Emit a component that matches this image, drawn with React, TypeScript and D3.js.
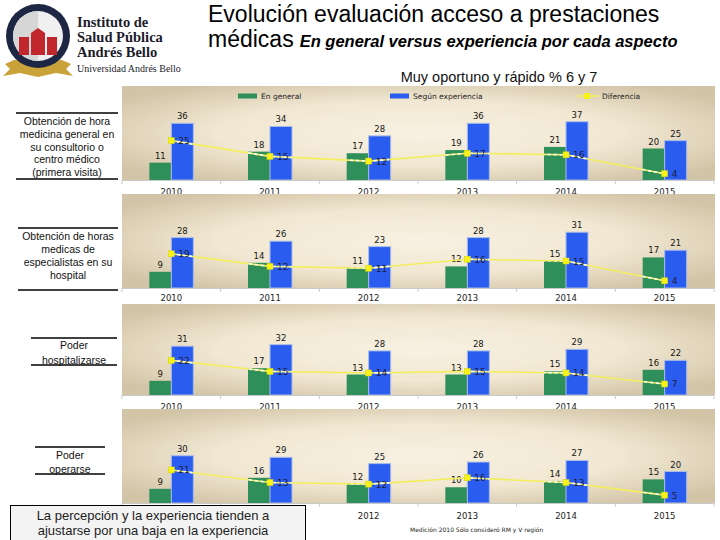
import React from 'react';
import * as d3 from 'd3';

// Survey years shown on every panel
const years = ['2010', '2011', '2012', '2013', '2014', '2015'];

// Aspect titles, one per panel (split in lines)
const aspectLines = [
  ['Obtención de hora', 'medicina general en', 'su consultorio o', 'centro médico', '(primera visita)'],
  ['Obtención de horas', 'medicas de', 'especialistas en su', 'hospital'],
  ['Poder', 'hospitalizarse'],
  ['Poder', 'operarse'],
];

// % "Muy oportuno y rápido" (notas 6 y 7)
const generalValues = [
  [11, 18, 17, 19, 21, 20],
  [9, 14, 11, 12, 15, 17],
  [9, 17, 13, 13, 15, 16],
  [9, 16, 12, 10, 14, 15],
];
const experienceValues = [
  [36, 34, 28, 36, 37, 25],
  [28, 26, 23, 28, 31, 21],
  [31, 32, 28, 28, 29, 22],
  [30, 29, 25, 26, 27, 20],
];
const differenceValues = [
  [25, 15, 12, 17, 16, 4],
  [19, 12, 11, 16, 15, 4],
  [22, 15, 14, 15, 14, 7],
  [21, 13, 12, 16, 13, 5],
];
const axisMax = [40, 35, 40, 40];
const seriesNames = ['En general', 'Según experiencia', 'Diferencia'];

const GREEN = '#2f8f5b';
const BLUE = '#2b5cf0';
const YELLOW = '#f3ef5c';
const LABEL_FONT = '"DejaVu Sans", sans-serif';
const SANS = '"Liberation Sans", Arial, sans-serif';
const SERIF = '"Liberation Serif", "DejaVu Serif", serif';

// Panel frames
const panelTop = [86, 194, 304, 409];
const panelBase = [180, 288, 395, 503];
const yearY = [192, 298, 407, 516];
const PLOT_H = 63;
const X0 = 122;
const X1 = 714;

// Conclusion note box (covers the lower-left corner of the last panel)
const NOTE_BOX = { x: 10.5, y: 505.5, w: 295, h: 40 };

function Panel({ i }: { i: number }) {
  const top = panelTop[i];
  const base = panelBase[i];
  const x = d3.scaleBand<string>().domain(years).range([X0, X1]);
  const inner = d3.scaleBand<string>().domain(['g', 'e']).range([-22, 22]);
  const y = d3.scaleLinear().domain([0, axisMax[i]]).range([base, base - PLOT_H]);
  const cx = (j: number) => (x(years[j]) as number) + x.bandwidth() / 2;
  const line = d3
    .line<number>()
    .x((_, j) => cx(j))
    .y((d) => y(d));
  const diffPath = line(differenceValues[i]) || '';
  const clipId = `barclip-${i}`;

  const bars = years.flatMap((yr, j) => [
    { key: `g${j}`, x: cx(j) + (inner('g') as number), v: generalValues[i][j], fill: GREEN, stroke: 'none' },
    { key: `e${j}`, x: cx(j) + (inner('e') as number), v: experienceValues[i][j], fill: BLUE, stroke: '#a9bde6' },
  ]);
  const bw = inner.bandwidth();

  // year labels that would sit under the note box are left out
  const underBox = (j: number) =>
    yearY[i] > NOTE_BOX.y && cx(j) < NOTE_BOX.x + NOTE_BOX.w;

  return (
    <g>
      <rect x={X0} y={top} width={X1 - X0 + 1} height={base - top} fill="url(#panelBg)" />
      <defs>
        <clipPath id={clipId}>
          {bars.map((b) => (
            <rect key={b.key} x={b.x} y={y(b.v)} width={bw} height={base - y(b.v)} />
          ))}
        </clipPath>
      </defs>
      {bars.map((b) => (
        <rect
          key={b.key}
          x={b.x}
          y={y(b.v)}
          width={bw}
          height={base - y(b.v)}
          fill={b.fill}
          stroke={b.stroke}
          strokeWidth={1}
        />
      ))}
      {bars.map((b) => (
        <text
          key={'t' + b.key}
          x={b.x + bw / 2}
          y={y(b.v) - 4}
          textAnchor="middle"
          fontFamily={LABEL_FONT}
          fontSize={8.5}
          fill="#151515"
        >
          {b.v}
        </text>
      ))}
      {/* axis line with category separators */}
      <line x1={X0} x2={X1} y1={base + 0.5} y2={base + 0.5} stroke="#c9c9c9" />
      {d3.range(years.length + 1).map((k) => {
        const tx = X0 + k * x.step();
        return <line key={k} x1={tx} x2={tx} y1={base} y2={base + 4} stroke="#c9c9c9" />;
      })}
      {years.map((yr, j) =>
        underBox(j) ? null : (
          <text
            key={yr}
            x={cx(j)}
            y={yearY[i] + 3}
            textAnchor="middle"
            fontFamily={LABEL_FONT}
            fontSize={8.5}
            fill="#222"
          >
            {yr}
          </text>
        )
      )}
      {/* difference line */}
      <path d={diffPath} fill="none" stroke={YELLOW} strokeWidth={1.6} />
      <path
        d={diffPath}
        fill="none"
        stroke="#ffffff"
        strokeWidth={1.6}
        strokeDasharray="3 3"
        clipPath={`url(#${clipId})`}
      />
      {differenceValues[i].map((d, j) => (
        <g key={'d' + j}>
          <rect x={cx(j) - 3} y={y(d) - 3} width={6} height={6} fill="#f7f31a" stroke="#d8d40a" strokeWidth={0.5} />
          <text
            x={cx(j) + 7}
            y={y(d) + 3.5}
            fontFamily={LABEL_FONT}
            fontSize={9}
            fill="#1c1c3c"
          >
            {d}
          </text>
        </g>
      ))}
    </g>
  );
}

function AspectLabel({ i }: { i: number }) {
  const boxes = [
    { x1: 16, x2: 118, top: 113, bottom: 179, first: 121, step: 12.8 },
    { x1: 18, x2: 118, top: 228, bottom: 290, first: 236, step: 13 },
    { x1: 31, x2: 117, top: 338, bottom: 365, first: 345, step: 15 },
    { x1: 35, x2: 105, top: 447, bottom: 474, first: 455, step: 13.5 },
  ];
  const b = boxes[i];
  const mid = (b.x1 + b.x2) / 2;
  return (
    <g>
      <line x1={b.x1} x2={b.x2} y1={b.top} y2={b.top} stroke="#000" strokeWidth={1.6} />
      <line x1={b.x1} x2={b.x2} y1={b.bottom} y2={b.bottom} stroke="#000" strokeWidth={1.6} />
      {aspectLines[i].map((t, k) => (
        <text
          key={k}
          x={mid}
          y={b.first + k * b.step + 4}
          textAnchor="middle"
          fontFamily={SANS}
          fontSize={10.5}
          fill="#111"
        >
          {t}
        </text>
      ))}
    </g>
  );
}

function Logo() {
  return (
    <g>
      <path
        d="M5,64 L14,60 L62,60 L71,64 L66,69 L73,76 L56,73 L38,77 L20,73 L3,76 L10,69 Z"
        fill="#c9a23a"
      />
      <circle cx={38} cy={36} r={32} fill="#1d2743" />
      <circle cx={38} cy={36} r={25} fill="#f0f0f0" />
      <path d="M38,11 A25,25 0 0 0 38,61 Z" fill="#d6d6d6" />
      <rect x={19} y={37} width={10} height={18} fill="#c1272d" />
      <path d="M31,55 V33 L38,28 L45,33 V55 Z" fill="#c1272d" />
      <rect x={47} y={37} width={10} height={18} fill="#c1272d" />
      <g fontFamily={SERIF} fontWeight="bold" fill="#1b1b2b" fontSize={14.5}>
        <text x={77} y={27}>Instituto de</text>
        <text x={77} y={42}>Salud Pública</text>
        <text x={77} y={56.5}>Andrés Bello</text>
      </g>
      <text x={77} y={72} fontFamily={SERIF} fontSize={10} fill="#1b1b2b">
        Universidad Andrés Bello
      </text>
    </g>
  );
}

export default function App() {
  return (
    <div style={{ position: 'fixed', left: 0, top: 0, width: 720, height: 540, background: '#fff' }}>
      <svg width={720} height={540} viewBox="0 0 720 540">
        <defs>
          <radialGradient id="panelBg" cx="50%" cy="50%" r="62%">
            <stop offset="0%" stopColor="#f8f1e2" />
            <stop offset="55%" stopColor="#f1e7d2" />
            <stop offset="100%" stopColor="#d2c4a6" />
          </radialGradient>
        </defs>
        <rect width={720} height={540} fill="#fff" />
        <Logo />
        <text x={208} y={22} fontFamily={SANS} fontSize={23} fill="#000">
          Evolución evaluación acceso a prestaciones
        </text>
        <text x={208} y={47} fontFamily={SANS} fontSize={23} fill="#000">
          médicas
          <tspan fontSize={16.5} fontWeight="bold" fontStyle="italic" dx={6}>
            En general versus experiencia por cada aspecto
          </tspan>
        </text>
        <text x={499} y={82} textAnchor="middle" fontFamily={SANS} fontSize={14.5} fill="#111">
          Muy oportuno y rápido % 6 y 7
        </text>

        {[0, 1, 2, 3].map((i) => (
          <Panel key={i} i={i} />
        ))}

        {/* legend */}
        <g fontFamily={LABEL_FONT} fontSize={7.5} fill="#222">
          <rect x={238} y={93.5} width={19} height={5} fill={GREEN} />
          <text x={261} y={99}>{seriesNames[0]}</text>
          <rect x={390} y={93.5} width={19} height={5} fill={BLUE} />
          <text x={413} y={99}>{seriesNames[1]}</text>
          <line x1={577} x2={599} y1={96} y2={96} stroke={YELLOW} strokeWidth={1.6} />
          <rect x={584} y={93} width={6} height={6} fill="#f7f31a" />
          <text x={602} y={99}>{seriesNames[2]}</text>
        </g>

        {[0, 1, 2, 3].map((i) => (
          <AspectLabel key={i} i={i} />
        ))}

        {/* conclusion box */}
        <rect
          x={NOTE_BOX.x}
          y={NOTE_BOX.y}
          width={NOTE_BOX.w}
          height={NOTE_BOX.h}
          fill="#f3f3f3"
          stroke="#000"
          strokeWidth={1}
        />
        <g fontFamily={SANS} fontSize={13} fill="#222" textAnchor="middle">
          <text x={153} y={520}>La percepción y la experiencia tienden a</text>
          <text x={153} y={535}>ajustarse por una baja en la experiencia</text>
        </g>
        <text x={410} y={532} fontFamily={LABEL_FONT} fontSize={6} fill="#222">
          Medición 2010 Sólo consideró RM y V región
        </text>
      </svg>
    </div>
  );
}
